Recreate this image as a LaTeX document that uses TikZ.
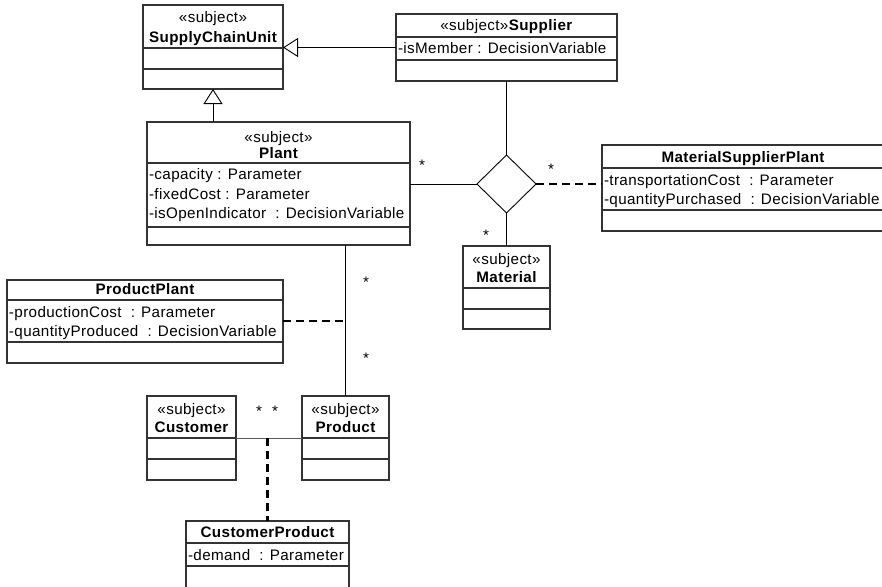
\documentclass[tikz,border=0pt]{standalone}
\usepackage{fontspec}
\setmainfont{Liberation Sans}[LetterSpace=2.5]
\usetikzlibrary{arrows.meta,shapes.geometric}

% UML class frame: name, left, top, right, bottom, compartment divider ys
\newcommand\umlbox[6]{%
  \node[classbox, anchor=north west, minimum width={#4-#2}, minimum height={#5-#3}] (#1) at (#2,#3) {};
  \foreach \yy in {#6} {\draw[divider] (#2,\yy) -- (#4,\yy);}
}

\begin{document}
\begin{tikzpicture}[x=1pt,y=-1pt,
  every node/.style={font=\fontsize{15.2}{18}\selectfont, inner sep=0pt, outer sep=0pt},
  classbox/.style={draw=black!80, line width=1.1pt},
  divider/.style={draw=black!80, line width=1.1pt},
  assoc/.style={draw=black, line width=0.9pt},
  assocthin/.style={draw=black!65, line width=0.9pt},
  assocclass/.style={draw=black, line width=2.4pt, dash pattern=on 8pt off 5pt},
  generalize/.style={draw=black, line width=0.9pt,
    -{Triangle[open, length=15pt, width=19pt, line width=0.9pt]}},
  stereo/.style={anchor=mid, yshift=-3pt},
  cname/.style={anchor=mid, yshift=-3pt, font=\fontsize{15.2}{18}\selectfont\bfseries},
  attr/.style={anchor=mid west, yshift=-2.5pt},
  mult/.style={anchor=north}
]
\useasboundingbox (0,0) rectangle (882,586);

% ---- class frames ----
\umlbox{scu}{143}{5}{283}{89}{48,69}
\umlbox{supplier}{396}{14}{617}{81}{37,60}
\umlbox{plant}{147}{122}{410}{245}{163,227}
\umlbox{msp}{602}{145}{885}{231}{168,210}
\umlbox{material}{463}{246}{550}{329}{288,309}
\umlbox{productplant}{7}{280}{283}{363}{300,342}
\umlbox{customer}{147}{396}{236}{480}{438,459}
\umlbox{product}{302}{396}{389}{480}{438,459}
\umlbox{customerproduct}{186}{521}{349}{600}{543,566}

% ---- class texts ----
\node[stereo] (scu-st) at (213,17) {«subject»};
\node[cname] (scu-nm) at (213,37) {SupplyChainUnit};

\node[stereo] (sup-st) at (506.5,25) {«subject»\textbf{Supplier}};
\node[attr] (sup-a1) at (398,48) {-isMember : DecisionVariable};

\node[stereo] (pl-st) at (278.5,137) {«subject»};
\node[cname] (pl-nm) at (278.5,153) {Plant};
\node[attr] (pl-a1) at (149,174) {-capacity : Parameter};
\node[attr] (pl-a2) at (149,194) {-fixedCost : Parameter};
\node[attr] (pl-a3) at (149,213) {-isOpenIndicator\ \ : DecisionVariable};

\node[cname] (msp-nm) at (743,157) {MaterialSupplierPlant};
\node[attr] (msp-a1) at (604,180) {-transportationCost\ \ : Parameter};
\node[attr] (msp-a2) at (604,199) {-quantityPurchased\ \ : DecisionVariable};

\node[stereo] (mat-st) at (506.5,259) {«subject»};
\node[cname] (mat-nm) at (506.5,277) {Material};

\node[cname] (pp-nm) at (145,289) {ProductPlant};
\node[attr] (pp-a1) at (9,312) {-productionCost\ \ : Parameter};
\node[attr] (pp-a2) at (9,331) {-quantityProduced\ \ : DecisionVariable};

\node[stereo] (cu-st) at (191.5,409) {«subject»};
\node[cname] (cu-nm) at (191.5,427) {Customer};

\node[stereo] (pr-st) at (345.5,409) {«subject»};
\node[cname] (pr-nm) at (345.5,427) {Product};

\node[cname] (cp-nm) at (267.5,532) {CustomerProduct};
\node[attr] (cp-a1) at (188,555) {-demand\ \ : Parameter};

% ---- n-ary association diamond ----
\node[draw, diamond, line width=0.9pt, minimum width=59pt, minimum height=58pt] (agg) at (506.5,184) {};

% ---- generalizations ----
\draw[generalize] (supplier.west) -- (supplier.west -| scu.east);
\draw[generalize] (scu.south |- plant.north) -- (scu.south);

% ---- associations ----
\draw[assoc] (supplier.south) -- (agg.north);
\draw[assoc] (plant.east |- agg.west) -- (agg.west);
\draw[assoc] (agg.south) -- (material.north);
\draw[assocclass] (agg.east) -- (msp.west |- agg.east);

\draw[assoc] (product.north |- plant.south) -- (product.north);
\coordinate (pp-join) at (345.5,321);
\draw[assocclass] (productplant.east |- pp-join) -- (pp-join);

\coordinate (cp-join) at (267.5,438);
\draw[assocthin] (customer.east |- cp-join) -- (product.west |- cp-join);
\draw[assocclass] (cp-join) -- (customerproduct.north);

% ---- multiplicities ----
\node[mult] (m1) at (422,160) {*};
\node[mult] (m2) at (551,164) {*};
\node[mult] (m3) at (486,230) {*};
\node[mult] (m4) at (366,277) {*};
\node[mult] (m5) at (366,353) {*};
\node[mult] (m6) at (259,406) {*};
\node[mult] (m7) at (275,406) {*};
\end{tikzpicture}
\end{document}
